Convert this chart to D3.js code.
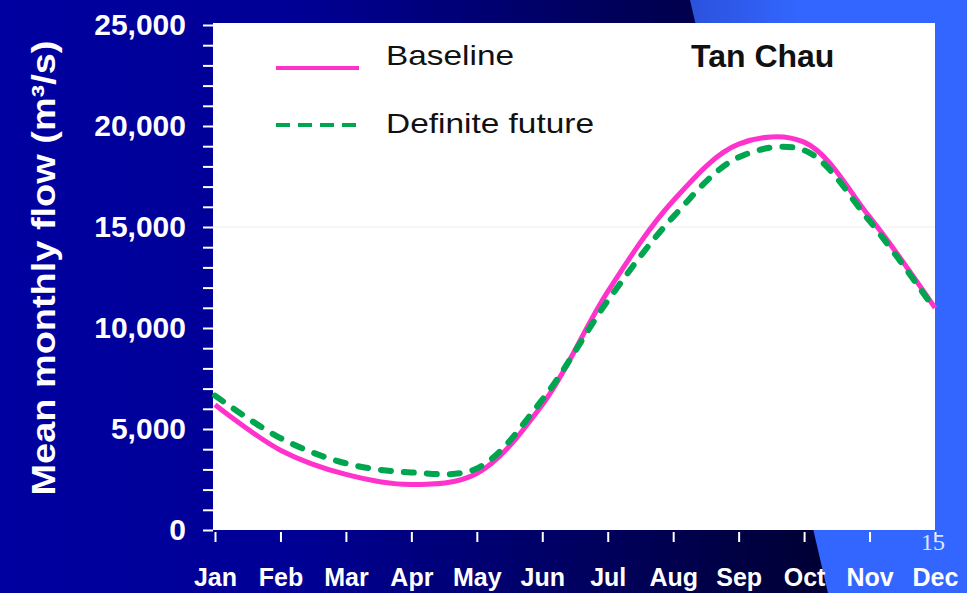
<!DOCTYPE html>
<html>
<head>
    <meta charset="utf-8">
    <title>Tan Chau</title>
    <script src="https://cdn.jsdelivr.net/npm/d3@7"></script>
    <style>
        body { margin: 0; overflow: hidden; }
        text { font-family: "Liberation Sans", Arial, sans-serif; }
    </style>
</head>
<body>
    <script>
        // Data (m3/s)
        var months = ["Jan", "Feb", "Mar", "Apr", "May", "Jun", "Jul", "Aug", "Sep", "Oct", "Nov", "Dec"];
        var baseline = [6200, 3950, 2750, 2250, 2800, 6200, 11800, 16300, 19100, 19200, 15500, 11000];
        var future = [6650, 4550, 3300, 2850, 3050, 6450, 11350, 15500, 18450, 18800, 15300, 10900];
        var yTicks = [0, 5000, 10000, 15000, 20000, 25000];
        var seriesNames = ["Baseline", "Definite future"];

        var svgWidth = 967;
        var svgHeight = 593;

        var svg = d3.select("body")
                    .append("svg")
                    .attr("width", svgWidth)
                    .attr("height", svgHeight);

        // Slide background: dark blue gradient + light blue shape on the right
        var defs = svg.append("defs");
        var grad = defs.append("linearGradient")
                    .attr("id", "bg")
                    .attr("x1", 0).attr("x2", 1).attr("y1", 0).attr("y2", 0);
        grad.append("stop").attr("offset", "0%").attr("stop-color", "#0000a0");
        grad.append("stop").attr("offset", "30%").attr("stop-color", "#000096");
        grad.append("stop").attr("offset", "85%").attr("stop-color", "#000034");
        var grad2 = defs.append("linearGradient")
                    .attr("id", "bg2")
                    .attr("x1", 0).attr("x2", 1).attr("y1", 0).attr("y2", 0);
        grad2.append("stop").attr("offset", "0%").attr("stop-color", "#2b52dc");
        grad2.append("stop").attr("offset", "40%").attr("stop-color", "#3366ff");

        svg.append("rect")
            .attr("width", svgWidth).attr("height", svgHeight)
            .attr("fill", "url(#bg)");
        svg.append("path")
            .attr("d", "M690,0 L967,0 L967,593 L828,593 Z")
            .attr("fill", "url(#bg2)");

        var x = d3.scalePoint().domain(months).range([215, 935]);
        var y = d3.scaleLinear().domain([0, 25000]).range([530, 25]);

        // White plot area
        svg.append("rect")
            .attr("x", 213).attr("y", 23)
            .attr("width", 935 - 213).attr("height", 530 - 23)
            .attr("fill", "#ffffff");

        // faint gridline
        svg.append("line")
            .attr("x1", 213).attr("x2", 935)
            .attr("y1", y(15000)).attr("y2", y(15000))
            .attr("stroke", "#eeeeee").attr("stroke-width", 1);

        // Y axis: ticks every 1000, labels every 5000
        var yAxis = d3.axisLeft(y)
                    .tickValues(d3.range(0, 25001, 1000))
                    .tickSize(10)
                    .tickFormat(function(d) { return yTicks.indexOf(d) >= 0 ? d3.format(",")(d) : ""; });
        var gy = svg.append("g")
                    .attr("transform", "translate(213,0)")
                    .call(yAxis);
        gy.select(".domain").remove();
        gy.selectAll(".tick line").attr("stroke", "#ffffff").attr("stroke-width", 2);
        gy.selectAll(".tick text")
            .attr("x", -27)
            .attr("fill", "#ffffff")
            .attr("font-size", 30)
            .attr("font-weight", "bold")
            .style("font-family", "'Liberation Sans', Arial, sans-serif");

        // X axis
        var xAxis = d3.axisBottom(x).tickSize(10).tickPadding(30);
        var gx = svg.append("g")
                    .attr("transform", "translate(0,532)")
                    .call(xAxis);
        gx.select(".domain").remove();
        gx.selectAll(".tick line").attr("stroke", "#ffffff").attr("stroke-width", 2);
        gx.selectAll(".tick text")
            .attr("y", 54)
            .attr("dy", null)
            .attr("fill", "#ffffff")
            .attr("font-size", 25)
            .attr("font-weight", "bold")
            .style("font-family", "'Liberation Sans', Arial, sans-serif");

        // Y axis title
        svg.append("text")
            .attr("transform", "translate(55,268) rotate(-90)")
            .attr("text-anchor", "middle")
            .attr("fill", "#ffffff")
            .attr("font-size", 34)
            .attr("font-weight", "bold")
            .attr("textLength", 455)
            .attr("lengthAdjust", "spacingAndGlyphs")
            .text("Mean monthly flow (m\u00b3/s)");

        // Lines
        var line = d3.line()
                    .x(function(d, i) { return x(months[i]); })
                    .y(function(d) { return y(d); })
                    .curve(d3.curveCatmullRom);

        svg.append("path")
            .attr("d", line(baseline))
            .attr("fill", "none")
            .attr("stroke", "#ff33cc")
            .attr("stroke-width", 5);

        svg.append("path")
            .attr("d", line(future))
            .attr("fill", "none")
            .attr("stroke", "#00a550")
            .attr("stroke-width", 6)
            .attr("stroke-linecap", "round")
            .attr("stroke-dasharray", "10,13");

        // Legend
        var legend = svg.append("g");
        legend.append("line")
            .attr("x1", 276).attr("x2", 359).attr("y1", 68).attr("y2", 68)
            .attr("stroke", "#ff33cc").attr("stroke-width", 4);
        legend.append("line")
            .attr("x1", 276).attr("x2", 359).attr("y1", 125).attr("y2", 125)
            .attr("stroke", "#00a550").attr("stroke-width", 4)
            .attr("stroke-dasharray", "14,8");
        legend.append("text")
            .attr("x", 386).attr("y", 65)
            .attr("font-size", 28)
            .attr("fill", "#111111")
            .attr("textLength", 128)
            .attr("lengthAdjust", "spacingAndGlyphs")
            .text(seriesNames[0]);
        legend.append("text")
            .attr("x", 386).attr("y", 133)
            .attr("font-size", 28)
            .attr("fill", "#111111")
            .attr("textLength", 208)
            .attr("lengthAdjust", "spacingAndGlyphs")
            .text(seriesNames[1]);

        // Station name
        svg.append("text")
            .attr("x", 691).attr("y", 67)
            .attr("font-size", 32)
            .attr("font-weight", "bold")
            .attr("fill", "#111111")
            .text("Tan Chau");

        // Slide number
        svg.append("text")
            .attr("x", 921).attr("y", 550)
            .attr("font-size", 24)
            .attr("fill", "#dde4ff")
            .style("font-family", "'Liberation Serif', 'Times New Roman', serif")
            .text("15");
    </script>
</body>
</html>
